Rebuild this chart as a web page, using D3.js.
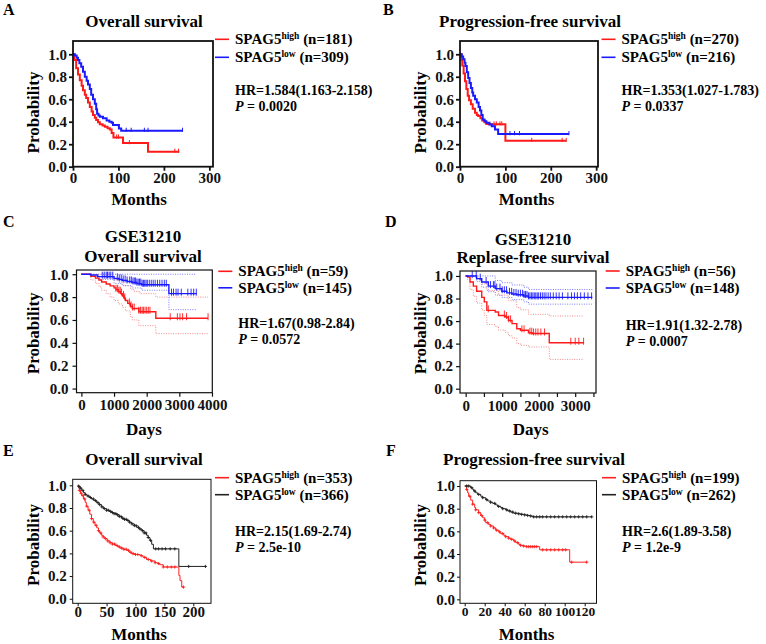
<!DOCTYPE html>
<html>
<head>
<meta charset="utf-8">
<script src="https://cdn.jsdelivr.net/npm/d3@7/dist/d3.min.js"></script>
<style>
  body { margin: 0; background: #fff; }
  text { font-family: 'Liberation Serif', 'Times New Roman', serif; font-weight: bold; }
</style>
</head>
<body>
<svg id="fig" width="766" height="644"></svg>
<script>
// ---------- data (time, survival probability) ----------
var yTicks = [0, 0.2, 0.4, 0.6, 0.8, 1.0];

// A - overall survival (months)
var aHigh = [[0,1],[3,0.95],[7,0.875],[11,0.82],[15,0.77],[19,0.72],[22,0.68],[26,0.64],[29,0.61],[33,0.57],[37,0.53],[41,0.49],[44,0.46],[48,0.435],[51,0.415],[55,0.395],[59,0.377],[65,0.366],[70,0.356],[76,0.343],[81,0.33],[85,0.30],[89,0.26],[110,0.21],[165,0.134],[234,0.134]];
var aHighCens = [96, 100, 124, 224, 232];
var aLow = [[0,1],[4,0.99],[8,0.97],[11,0.95],[14,0.92],[18,0.89],[22,0.845],[26,0.80],[30,0.765],[33,0.73],[37,0.69],[40,0.64],[44,0.60],[48,0.56],[51,0.51],[53,0.47],[56,0.455],[59,0.445],[66,0.43],[74,0.41],[80,0.40],[85,0.39],[88,0.37],[101,0.34],[106,0.32],[241,0.32]];
var aLowCens = [117, 128, 157, 165, 241];

// B - progression-free survival (months)
var bHigh = [[0,1],[3,0.95],[5,0.9],[8,0.83],[11,0.76],[14,0.69],[17,0.63],[20,0.59],[24,0.555],[28,0.515],[33,0.48],[37,0.46],[40,0.45],[45,0.43],[49,0.41],[54,0.395],[58,0.38],[64,0.377],[100,0.23],[234,0.23]];
var bHighCens = [75, 80, 88, 92, 158, 225, 234];
var bLow = [[0,1],[4,0.98],[7,0.955],[10,0.925],[12,0.896],[15,0.84],[18,0.79],[21,0.745],[24,0.70],[27,0.66],[29,0.63],[33,0.60],[37,0.57],[41,0.53],[44,0.50],[47,0.46],[50,0.42],[54,0.405],[58,0.39],[65,0.375],[70,0.36],[77,0.33],[84,0.29],[240,0.29]];
var bLowCens = [110, 120, 131, 240];

// C - GSE31210 overall survival (days)
var cHigh = [[0,1],[290,0.983],[430,0.966],[540,0.949],[620,0.932],[760,0.915],[880,0.898],[1000,0.881],[1060,0.864],[1130,0.847],[1200,0.83],[1260,0.81],[1310,0.79],[1350,0.77],[1420,0.745],[1500,0.72],[1560,0.70],[1760,0.672],[2280,0.615],[3880,0.615]];
var cHighCens = [1060, 1110, 1150, 1190, 1230, 1290, 1330, 1470, 1520, 1570, 1620, 1760, 1810, 1860, 1900, 1950, 2000, 2050, 2100, 2720, 2940, 3020, 3100, 3220, 3880];
var cHighUp = [[0,1],[700,0.98],[900,0.96],[1000,0.95],[1150,0.93],[1300,0.90],[1500,0.87],[1600,0.85],[1800,0.83],[2280,0.80],[3880,0.80]];
var cHighLo = [[0,1],[290,0.95],[430,0.92],[540,0.89],[620,0.86],[760,0.83],[880,0.80],[1000,0.77],[1130,0.74],[1260,0.71],[1350,0.68],[1500,0.63],[1560,0.60],[1760,0.55],[2280,0.48],[3880,0.48]];
var cLow = [[0,1],[280,0.993],[500,0.979],[1000,0.963],[1150,0.955],[1250,0.946],[1400,0.937],[1550,0.928],[1700,0.918],[1850,0.908],[2680,0.83],[3530,0.83]];
var cLowCens = [640, 700, 760, 800, 850, 900, 960, 1100, 1160, 1220, 1280, 1340, 1400, 1480, 1530, 1580, 1620, 1660, 1700, 1740, 1780, 1820, 1860, 1900, 1940, 1980, 2020, 2080, 2140, 2200, 2260, 2330, 2400, 2470, 2540, 2600, 2760, 2820, 2900, 2960, 3060, 3260, 3360, 3440, 3520];
var cLowUp = [[0,1],[3530,1]];
var cLowLo = [[0,1],[280,0.98],[500,0.955],[1000,0.92],[1250,0.90],[1550,0.88],[1850,0.86],[2680,0.69],[3530,0.69]];

// D - GSE31210 relapse-free survival (days)
var dHigh = [[0,1],[55,0.99],[120,0.947],[210,0.91],[300,0.864],[440,0.81],[510,0.77],[580,0.695],[810,0.68],[900,0.65],[1080,0.636],[1170,0.606],[1270,0.577],[1400,0.532],[1500,0.518],[1720,0.497],[1820,0.49],[2290,0.408],[3240,0.408]];
var dHighCens = [620, 1060, 1120, 1180, 1230, 1540, 1600, 1760, 1810, 1860, 1920, 1980, 2060, 2160, 2880, 3000, 3100, 3230];
var dHighUp = [[0,1],[120,1],[300,0.97],[440,0.93],[580,0.87],[900,0.83],[1170,0.78],[1400,0.72],[1500,0.70],[1720,0.66],[2290,0.645],[3240,0.645]];
var dHighLo = [[0,1],[55,0.97],[120,0.88],[210,0.82],[300,0.76],[440,0.70],[510,0.65],[580,0.57],[810,0.55],[900,0.52],[1080,0.50],[1170,0.47],[1270,0.45],[1400,0.40],[1500,0.385],[1720,0.37],[2290,0.26],[3240,0.26]];
var dLow = [[0,1],[300,0.976],[440,0.947],[620,0.91],[810,0.888],[990,0.864],[1130,0.85],[1270,0.84],[1400,0.834],[1590,0.822],[1720,0.81],[3470,0.81]];
var dLowCens = [180, 290, 400, 560, 680, 760, 800, 850, 940, 1000, 1060, 1120, 1200, 1260, 1320, 1380, 1440, 1500, 1560, 1600, 1640, 1680, 1720, 1760, 1800, 1840, 1880, 1920, 1960, 2000, 2050, 2100, 2150, 2200, 2260, 2320, 2400, 2480, 2560, 2650, 2800, 2900, 2980, 3060, 3150, 3250, 3350, 3450];
var dLowUp = [[0,1],[600,1],[810,0.96],[990,0.94],[1270,0.92],[1590,0.90],[1720,0.88],[3470,0.88]];
var dLowLo = [[0,1],[300,0.95],[440,0.90],[620,0.86],[810,0.83],[990,0.81],[1270,0.79],[1590,0.77],[1720,0.75],[3470,0.75]];

// E - overall survival (months)
var eHigh = [[0,1],[2,0.975],[3,0.955],[5,0.93],[7,0.91],[10,0.88],[13,0.85],[15,0.815],[18,0.78],[21,0.745],[24,0.706],[27,0.675],[30,0.647],[33,0.625],[36,0.60],[38,0.58],[41,0.56],[44,0.545],[47,0.53],[51,0.51],[56,0.494],[60,0.482],[65,0.47],[69,0.458],[73,0.447],[79,0.436],[85,0.426],[89,0.41],[93,0.397],[100,0.39],[108,0.38],[113,0.365],[119,0.347],[126,0.333],[134,0.318],[138,0.31],[142,0.30],[148,0.28],[175,0.206],[177,0.16],[180,0.103],[183,0.103]];
var eHighCens = [3, 6, 9, 12, 16, 20, 24, 28, 32, 36, 40, 44, 48, 52, 56, 60, 64, 68, 72, 76, 80, 84, 88, 92, 96, 100, 104, 110, 116, 122, 128, 134, 140, 148, 155, 162, 168, 183];
var eLow = [[0,1],[2,0.99],[4,0.976],[7,0.955],[10,0.935],[13,0.92],[16,0.906],[20,0.893],[24,0.88],[28,0.865],[33,0.847],[37,0.83],[41,0.81],[45,0.795],[50,0.78],[55,0.77],[59,0.76],[63,0.75],[67,0.74],[72,0.725],[76,0.71],[80,0.70],[85,0.69],[89,0.675],[93,0.66],[98,0.645],[102,0.63],[106,0.615],[111,0.60],[115,0.58],[119,0.56],[122,0.54],[125,0.515],[128,0.48],[131,0.44],[175,0.285],[221,0.285]];
var eLowCens = [2, 5, 9, 13, 18, 22, 27, 31, 35, 38, 42, 46, 50, 53, 57, 60, 63, 66, 69, 72, 75, 78, 81, 84, 87, 90, 94, 98, 101, 105, 108, 112, 115, 118, 122, 126, 135, 140, 146, 152, 160, 168, 192, 221];

// F - progression-free survival (months)
var fHigh = [[0,1],[2,0.97],[3,0.94],[4,0.91],[6,0.875],[8,0.84],[10,0.81],[11,0.79],[14,0.765],[16,0.74],[18,0.72],[20,0.70],[21,0.676],[24,0.66],[26,0.647],[29,0.63],[31,0.61],[34,0.595],[36,0.58],[39,0.565],[41,0.553],[44,0.54],[46,0.53],[49,0.515],[51,0.50],[54,0.485],[56,0.476],[59,0.47],[61,0.465],[75,0.437],[105,0.328],[122,0.328]];
var fHighCens = [2, 5, 8, 11, 14, 17, 20, 23, 26, 29, 32, 35, 38, 41, 44, 47, 50, 53, 56, 59, 62, 64, 66, 68, 70, 72, 78, 82, 86, 90, 94, 98, 101, 107, 122];
var fLow = [[0,1],[6,0.985],[8,0.97],[9,0.956],[11,0.94],[13,0.926],[16,0.91],[18,0.897],[21,0.88],[23,0.868],[26,0.856],[28,0.847],[31,0.833],[33,0.82],[36,0.81],[38,0.80],[41,0.79],[43,0.78],[46,0.77],[49,0.76],[53,0.755],[56,0.75],[60,0.745],[63,0.74],[66,0.735],[68,0.728],[127,0.728]];
var fLowCens = [2, 4, 7, 10, 14, 18, 22, 26, 30, 34, 38, 42, 45, 48, 51, 54, 57, 60, 63, 66, 69, 72, 75, 78, 82, 86, 90, 94, 98, 102, 106, 110, 114, 118, 122, 127];

// legend / stats text
var legendN = { A: [181, 309], B: [270, 216], C: [59, 145], D: [56, 148], E: [353, 366], F: [199, 262] };
var hrText = { A: "HR=1.584(1.163-2.158)", B: "HR=1.353(1.027-1.783)", C: "HR=1.67(0.98-2.84)", D: "HR=1.91(1.32-2.78)", E: "HR=2.15(1.69-2.74)", F: "HR=2.6(1.89-3.58)" };
var pText = { A: "0.0020", B: "0.0337", C: "0.0572", D: "0.0007", E: "2.5e-10", F: "1.2e-9" };

// ---------- drawing ----------
var svg = d3.select("#fig");
var RED = "#ff1a1a", BLUE = "#1a1aff", BLACK = "#222";

function stepAt(curve, t) {
    var p = curve[0][1];
    curve.forEach(function (d) { if (d[0] <= t) p = d[1]; });
    return p;
}

function drawPanel(c) {
    var g = svg.append("g");
    var x = d3.scaleLinear().domain(c.xDomain).range([c.left, c.right]);
    var y = d3.scaleLinear().domain(c.yDomain).range([c.bottom, c.top]);
    var line = d3.line().curve(d3.curveStepAfter)
        .x(function (d) { return x(d[0]); })
        .y(function (d) { return y(d[1]); });

    // confidence bands (dotted)
    (c.ci || []).forEach(function (ci) {
        g.append("path").attr("d", line(ci.data))
            .attr("fill", "none").attr("stroke", ci.color)
            .attr("stroke-width", 1).attr("stroke-dasharray", "1,1.4");
    });

    c.series.forEach(function (s) {
        g.append("path").attr("d", line(s.data))
            .attr("fill", "none").attr("stroke", s.color)
            .attr("stroke-width", c.lineWidth);

        // censor marks
        s.cens.forEach(function (t) {
            var cx = x(t), cy = y(stepAt(s.data, t));
            if (c.censor === "plus") {
                g.append("path")
                    .attr("d", "M" + (cx - 1.6) + "," + cy + "H" + (cx + 1.6) + "M" + cx + "," + (cy - 1.6) + "V" + (cy + 1.6))
                    .attr("stroke", s.color).attr("stroke-width", 0.9);
            } else {
                g.append("line")
                    .attr("x1", cx).attr("x2", cx)
                    .attr("y1", cy - c.censH).attr("y2", cy + c.censH * 0.4)
                    .attr("stroke", s.color).attr("stroke-width", c.censor === "bar" ? 0.9 : 1);
            }
        });
    });

    // frame
    g.append("rect")
        .attr("x", c.left).attr("y", c.top)
        .attr("width", c.right - c.left).attr("height", c.bottom - c.top)
        .attr("fill", "none").attr("stroke", "#111").attr("stroke-width", c.frameWidth);

    // axes
    var xAxis = d3.axisBottom(x).tickValues(c.xTicks).tickSize(c.tick).tickPadding(c.xPad)
        .tickFormat(function (d) { return c.xLabels.indexOf(d) >= 0 ? d : ""; });
    var gx = g.append("g").attr("transform", "translate(0," + c.bottom + ")").call(xAxis);
    var yAxis = d3.axisLeft(y).tickValues(yTicks).tickSize(c.tick).tickPadding(c.yPad)
        .tickFormat(d3.format(".1f"));
    var gy = g.append("g").attr("transform", "translate(" + c.left + ",0)").call(yAxis);
    [gx, gy].forEach(function (a) {
        a.select(".domain").remove();
        a.selectAll("line").attr("stroke", "#111").attr("stroke-width", c.frameWidth);
        a.selectAll("text").attr("font-size", c.tickFont).attr("fill", "#111");
    });
    if (c.xTickFont) gx.selectAll("text").attr("font-size", c.xTickFont);

    // panel letter
    g.append("text").attr("x", c.letter[0]).attr("y", c.letter[1])
        .attr("font-size", 16).text(c.id);

    // title lines
    c.title.forEach(function (t) {
        g.append("text").attr("x", c.titleX).attr("y", t[1])
            .attr("text-anchor", "middle").attr("font-size", 17).text(t[0]);
    });

    // axis titles
    g.append("text")
        .attr("transform", "translate(" + c.yLab[0] + "," + c.yLab[1] + ") rotate(-90)")
        .attr("text-anchor", "middle").attr("font-size", 17).text("Probability");
    g.append("text").attr("x", c.xLab[0]).attr("y", c.xLab[1])
        .attr("text-anchor", "middle").attr("font-size", 17).text(c.xName);

    // legend
    var names = ["high", "low"];
    c.series.forEach(function (s, i) {
        var ly = c.legY + i * c.legGap;
        g.append("line").attr("x1", c.legX).attr("x2", c.legX + 14)
            .attr("y1", ly).attr("y2", ly)
            .attr("stroke", s.color).attr("stroke-width", 1.6);
        var t = g.append("text").attr("x", c.legX + 20).attr("y", ly + 5).attr("font-size", 15);
        t.append("tspan").text("SPAG5");
        t.append("tspan").attr("font-size", 9.5).attr("dy", -5).text(names[i]);
        t.append("tspan").attr("dy", 5).text(" (n=" + legendN[c.id][i] + ")");
    });

    // statistics
    g.append("text").attr("x", c.legX + 20).attr("y", c.hrY)
        .attr("font-size", 14).text(hrText[c.id]);
    var p = g.append("text").attr("x", c.legX + 20).attr("y", c.hrY + 16).attr("font-size", 14);
    p.append("tspan").attr("font-style", "italic").text("P");
    p.append("tspan").text(" = " + pText[c.id]);
}

var panels = [
    { id: "A", left: 73, right: 213, top: 41, bottom: 166.7, xDomain: [0, 308], yDomain: [0, 1.118],
      xTicks: [0, 100, 200, 300], xLabels: [0, 100, 200, 300], tick: 4, xPad: 2, yPad: 2, tickFont: 15,
      frameWidth: 1.8, lineWidth: 2, censor: "tick", censH: 3,
      series: [{ data: aHigh, cens: aHighCens, color: RED }, { data: aLow, cens: aLowCens, color: BLUE }],
      letter: [3, 15], title: [["Overall survival", 26.7]], titleX: 144,
      yLab: [38.5, 112.5], xLab: [139, 205], xName: "Months",
      legX: 215, legY: 39.3, legGap: 18, hrY: 94.5 },
    { id: "B", left: 460, right: 598, top: 41, bottom: 166.7, xDomain: [0, 304], yDomain: [0, 1.118],
      xTicks: [0, 100, 200, 300], xLabels: [0, 100, 200, 300], tick: 4, xPad: 2, yPad: 2, tickFont: 15,
      frameWidth: 1.8, lineWidth: 2, censor: "tick", censH: 3,
      series: [{ data: bHigh, cens: bHighCens, color: RED }, { data: bLow, cens: bLowCens, color: BLUE }],
      letter: [383, 15], title: [["Progression-free survival", 26.7]], titleX: 530,
      yLab: [425.5, 112.5], xLab: [526.5, 205], xName: "Months",
      legX: 601.5, legY: 39.3, legGap: 18, hrY: 95 },
    { id: "C", left: 76.5, right: 212.3, top: 270, bottom: 392.7, xDomain: [-150, 4010], yDomain: [-0.036, 1.037],
      xTicks: [0, 1000, 2000, 3000, 4000], xLabels: [0, 1000, 2000, 3000, 4000], tick: 4, xPad: 3, yPad: 4, tickFont: 15,
      frameWidth: 1.2, lineWidth: 1.4, censor: "bar", censH: 5,
      ci: [{ data: cHighUp, color: "#f08a8a" }, { data: cHighLo, color: "#f08a8a" },
           { data: cLowUp, color: "#7a7aff" }, { data: cLowLo, color: "#7a7aff" }],
      series: [{ data: cHigh, cens: cHighCens, color: RED }, { data: cLow, cens: cLowCens, color: BLUE }],
      letter: [3, 227], title: [["GSE31210", 241.7], ["Overall survival", 261.7]], titleX: 143,
      yLab: [38.5, 333.3], xLab: [144, 435], xName: "Days",
      legX: 218.3, legY: 271.3, legGap: 16.5, hrY: 328.3 },
    { id: "D", left: 460, right: 596, top: 271, bottom: 393, xDomain: [-155, 3570], yDomain: [-0.038, 1.044],
      xTicks: [0, 500, 1000, 1500, 2000, 2500, 3000, 3500], xLabels: [0, 1000, 2000, 3000], tick: 4, xPad: 3, yPad: 3, tickFont: 15,
      frameWidth: 1.2, lineWidth: 1.4, censor: "bar", censH: 5,
      ci: [{ data: dHighUp, color: "#f08a8a" }, { data: dHighLo, color: "#f08a8a" },
           { data: dLowUp, color: "#7a7aff" }, { data: dLowLo, color: "#7a7aff" }],
      series: [{ data: dHigh, cens: dHighCens, color: RED }, { data: dLow, cens: dLowCens, color: BLUE }],
      letter: [385, 227], title: [["GSE31210", 245], ["Replase-free survival", 263.3]], titleX: 533,
      yLab: [425.5, 333.3], xLab: [530.7, 435], xName: "Days",
      legX: 605.7, legY: 271, legGap: 17, hrY: 330 },
    { id: "E", left: 72.7, right: 211, top: 479.3, bottom: 603.3, xDomain: [-8.6, 230.6], yDomain: [-0.04, 1.053],
      xTicks: [0, 50, 100, 150, 200], xLabels: [0, 50, 100, 150, 200], tick: 3, xPad: 0, yPad: 3, tickFont: 15,
      frameWidth: 1, lineWidth: 1, censor: "plus",
      series: [{ data: eHigh, cens: eHighCens, color: "#ff2020" }, { data: eLow, cens: eLowCens, color: BLACK }],
      letter: [3, 456], title: [["Overall survival", 465]], titleX: 144,
      yLab: [38.5, 545], xLab: [139, 640], xName: "Months",
      legX: 215, legY: 477.7, legGap: 17, hrY: 536 },
    { id: "F", left: 460, right: 596.5, top: 480.7, bottom: 603.3, xDomain: [-4.7, 131.8], yDomain: [-0.035, 1.047],
      xTicks: [0, 20, 40, 60, 80, 100, 120], xLabels: [0, 20, 40, 60, 80, 100, 120], tick: 3, xPad: 0, yPad: 2, tickFont: 15, xTickFont: 13.5,
      frameWidth: 1, lineWidth: 1, censor: "plus",
      series: [{ data: fHigh, cens: fHighCens, color: "#ff2020" }, { data: fLow, cens: fLowCens, color: BLACK }],
      letter: [386, 456], title: [["Progression-free survival", 465]], titleX: 534,
      yLab: [425.5, 545], xLab: [526.5, 640], xName: "Months",
      legX: 602, legY: 477.7, legGap: 17, hrY: 536 }
];

panels.forEach(drawPanel);
</script>
</body>
</html>
